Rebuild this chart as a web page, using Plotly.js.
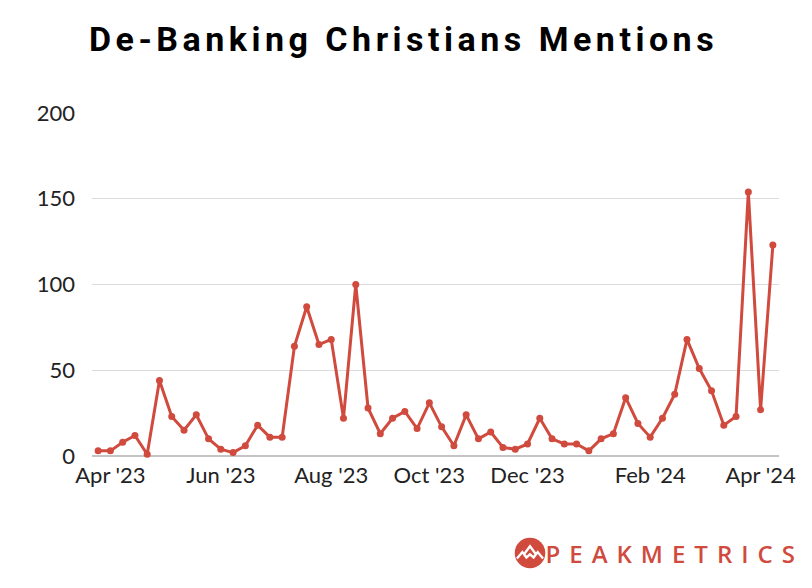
<!DOCTYPE html>
<html>
<head>
<meta charset="utf-8">
<script src="https://cdn.plot.ly/plotly-3.0.1.min.js"></script>
<style>
  html, body { margin: 0; padding: 0; background: #fff; }
  #chart { width: 812px; height: 588px; }
  .gtitle { letter-spacing: 4.5px; }
  .annotation[data-index="0"] text { letter-spacing: 9px; }
</style>
</head>
<body>
<div id="chart"></div>
<script>
// Weekly periods (category positions)
const weeks = [
  "2023-03-26","2023-04-02","2023-04-09","2023-04-16","2023-04-23","2023-04-30",
  "2023-05-07","2023-05-14","2023-05-21","2023-05-28","2023-06-04","2023-06-11",
  "2023-06-18","2023-06-25","2023-07-02","2023-07-09","2023-07-16","2023-07-23",
  "2023-07-30","2023-08-06","2023-08-13","2023-08-20","2023-08-27","2023-09-03",
  "2023-09-10","2023-09-17","2023-09-24","2023-10-01","2023-10-08","2023-10-15",
  "2023-10-22","2023-10-29","2023-11-05","2023-11-12","2023-11-19","2023-11-26",
  "2023-12-03","2023-12-10","2023-12-17","2023-12-24","2023-12-31","2024-01-07",
  "2024-01-14","2024-01-21","2024-01-28","2024-02-04","2024-02-11","2024-02-18",
  "2024-02-25","2024-03-03","2024-03-10","2024-03-17","2024-03-24","2024-03-31",
  "2024-04-07","2024-04-14"
];
// Mentions per week
const mentions = [
  3, 3, 8, 12, 1, 44, 23, 15, 24, 10, 4, 2,
  6, 18, 11, 11, 64, 87, 65, 68, 22, 100, 28, 13,
  22, 26, 16, 31, 17, 6, 24, 10, 14, 5, 4, 7,
  22, 10, 7, 7, 3, 10, 13, 34, 19, 11, 22, 36,
  68, 51, 38, 18, 23, 154, 27, 123
];
// Tick labels
const tickWeeks = ["2023-04-02","2023-06-04","2023-08-06","2023-10-01","2023-11-26","2024-02-04","2024-04-07"];
const tickLabels = ["Apr '23","Jun '23","Aug '23","Oct '23","Dec '23","Feb '24","Apr '24"];
const yTicks = [0, 50, 100, 150, 200];

const red = "#d04a3e";

const logoSvg = '<svg xmlns="http://www.w3.org/2000/svg" width="40" height="40" viewBox="0 0 40 40">' +
  '<circle cx="20" cy="20" r="17" fill="' + red + '"/>' +
  '<polyline points="13,22 20,12.5 27,22" fill="none" stroke="#fff" stroke-width="2.6" stroke-linejoin="miter"/>' +
  '<polyline points="5.5,26 11.5,19 16,25 20,21.5 24,25 28.5,19 34.5,26" fill="none" stroke="#fff" stroke-width="2.6" stroke-linejoin="miter"/>' +
  '</svg>';
const logoSrc = "data:image/svg+xml;base64," + btoa(logoSvg);

const trace = {
  type: "scatter",
  mode: "lines+markers",
  x: weeks,
  y: mentions,
  line: { color: red, width: 3 },
  marker: { color: red, size: 7 },
  cliponaxis: false,
  hoverinfo: "x+y"
};

const layout = {
  width: 812,
  height: 588,
  margin: { l: 92, r: 33, t: 113, b: 132 },
  paper_bgcolor: "#fff",
  plot_bgcolor: "#fff",
  showlegend: false,
  font: { family: "Lato, sans-serif", color: "#222" },
  title: {
    text: "De-Banking Christians Mentions",
    font: { family: "Roboto, sans-serif", size: 34, weight: 700, color: "#000" },
    x: 0.497, xref: "container", xanchor: "center",
    y: 1 - 39 / 588, yref: "container", yanchor: "middle"
  },
  xaxis: {
    type: "category",
    range: [-0.5, weeks.length - 0.5],
    tickmode: "array",
    tickvals: tickWeeks,
    ticktext: tickLabels,
    tickangle: 0,
    showgrid: false,
    zeroline: false,
    showline: false,
    ticks: "",
    ticklabelstandoff: 4,
    tickfont: { family: "Lato, sans-serif", size: 22, color: "#222" }
  },
  yaxis: {
    range: [0, 200],
    tickmode: "array",
    tickvals: yTicks,
    ticktext: yTicks.map(String),
    showgrid: true,
    gridcolor: "#dcdcdc",
    gridwidth: 1,
    zeroline: true,
    zerolinecolor: "#c4c4c4",
    zerolinewidth: 2,
    showline: false,
    ticks: "",
    ticklabelstandoff: 16,
    tickfont: { family: "Lato, sans-serif", size: 22, color: "#222" }
  },
  images: [{
    source: logoSrc,
    xref: "paper", yref: "paper",
    x: (530 - 92) / 687, y: (456 - 553) / 343,
    sizex: 36 / 687, sizey: 36 / 343,
    xanchor: "center", yanchor: "middle",
    sizing: "contain", layer: "above"
  }],
  annotations: [{
    text: "PEAKMETRICS",
    xref: "paper", yref: "paper",
    x: (674 - 92) / 687, y: (456 - 553) / 343,
    xanchor: "center", yanchor: "middle",
    showarrow: false,
    font: { family: "Open Sans, sans-serif", size: 24, weight: 600, color: red }
  }]
};

Plotly.newPlot("chart", [trace], layout, { displayModeBar: false, staticPlot: true });
</script>
</body>
</html>
